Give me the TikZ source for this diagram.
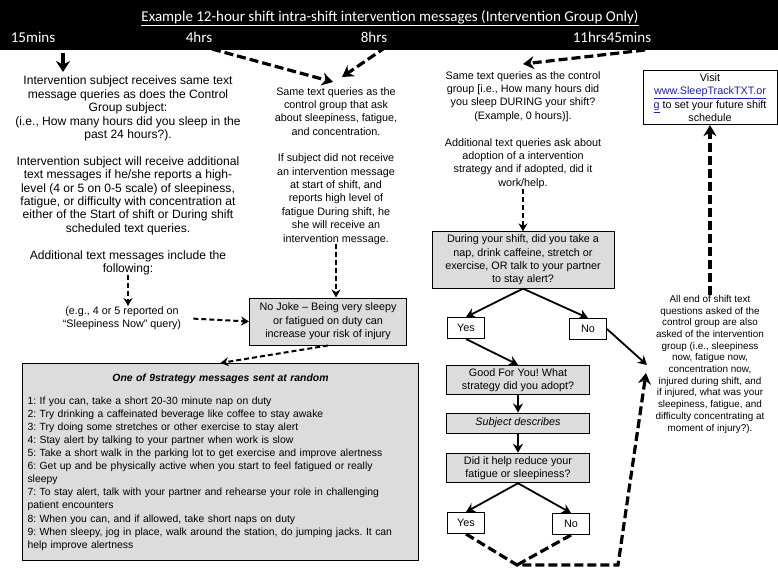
\documentclass[tikz,border=0pt]{standalone}
\usepackage{fontspec}
\setmainfont{Liberation Sans}
\newfontfamily\hdrfont{Carlito}
\usetikzlibrary{arrows.meta, positioning}

\definecolor{boxgrey}{HTML}{DCDCDC}
\definecolor{linkblue}{HTML}{2020B0}

\begin{document}
\frenchspacing
\begin{tikzpicture}[x=1pt, y=-1pt, >=Stealth,
  txt/.style={align=center, inner sep=0pt, font=\fontsize{10.8}{13.4}\selectfont},
  widetxt/.style={txt, font=\fontsize{12.1}{13.4}\selectfont},
  smalltxt/.style={align=center, inner sep=0pt, font=\fontsize{9.9}{11.7}\selectfont},
  hdr/.style={text=white, inner sep=0pt, font=\hdrfont\fontsize{15}{17}\selectfont},
  greybox/.style={draw, line width=1pt, fill=boxgrey, align=center, inner sep=3pt,
    font=\fontsize{10.8}{13.4}\selectfont},
  whitebox/.style={greybox, fill=white},
  answer/.style={whitebox, minimum width=37pt, minimum height=21pt, inner sep=2pt},
  bigdash/.style={line width=3.2pt, dash pattern=on 9pt off 4pt, -{Stealth[length=11pt, width=13pt]}},
  thindash/.style={line width=2pt, dash pattern=on 5pt off 3pt, -{Stealth[length=8pt, width=9pt]}},
  flow/.style={line width=1.8pt, -{Stealth[length=9pt, width=10pt]}}
]
\useasboundingbox (0,0) rectangle (778,573);

% timeline banner
\fill (0,0) rectangle (778,50);
\node[hdr] (title) at (390,18) {\underline{Example 12-hour shift intra-shift intervention messages (Intervention Group Only)}};
\node[hdr] (t15) at (33,37) {15mins};
\node[hdr] (t4) at (199,37) {4hrs};
\node[hdr] (t8) at (374,37) {8hrs};
\node[hdr] (t1145) at (612,37) {11hrs45mins};

% start of shift
\node[widetxt, anchor=north] (ctrl) at (128,76) {Intervention subject receives same text\\
  message queries as does the Control\\ Group subject:\\
  (i.e., How many hours did you sleep in the\\ past 24 hours?).\\[13.4pt]
  Intervention subject will receive additional\\ text messages if he/she reports a high-\\
  level (4 or 5 on 0-5 scale) of sleepiness,\\ fatigue, or difficulty with concentration at\\
  either of the Start of shift or During shift\\ scheduled text queries.\\[13.4pt]
  Additional text messages include the\\ following:};
\node[txt] (eg) at (122,318) {(e.g., 4 or 5 reported on\\ ``Sleepiness Now'' query)};

% during shift
\node[txt, anchor=north] (mid) at (336,87) {Same text queries as the\\ control group that ask\\
  about sleepiness, fatigue,\\ and concentration.\\[13pt]
  If subject did not receive\\ an intervention message\\ at start of shift, and\\
  reports high level of\\ fatigue During shift, he\\ she will receive an\\ intervention message.};
\node[greybox, minimum width=157pt, minimum height=47pt] (nojoke) at (328,321.5)
  {No Joke -- Being very sleepy\\ or fatigued on duty can\\ increase your risk of injury};

\node[greybox, anchor=north west, text width=386pt, align=left, inner xsep=5pt, inner ysep=10pt,
  font=\fontsize{10.4}{13.1}\selectfont] (strat) at (22,363)
  {{\centering\bfseries\itshape One of 9strategy messages sent at random\par}\vspace{10pt}
  1: If you can, take a short 20-30 minute nap on duty\\
  2: Try drinking a caffeinated beverage like coffee to stay awake\\
  3: Try doing some stretches or other exercise to stay alert\\
  4: Stay alert by talking to your partner when work is slow\\
  5: Take a short walk in the parking lot to get exercise and improve alertness\\
  6: Get up and be physically active when you start to feel fatigued or really\\ sleepy\\
  7: To stay alert, talk with your partner and rehearse your role in challenging\\ patient encounters\\
  8: When you can, and if allowed, take short naps on duty\\
  9: When sleepy, jog in place, walk around the station, do jumping jacks. It can\\ help improve alertness};

% end of shift
\node[txt, anchor=north] (endq) at (523,71) {Same text queries as the control\\
  group [i.e., How many hours did\\ you sleep DURING your shift?\\ (Example, 0 hours)].\\[13.4pt]
  Additional text queries ask about\\ adoption of a intervention\\
  strategy and if adopted, did it\\ work/help.};
\node[greybox, minimum width=182pt] (q1) at (523,260) {During your shift, did you take a\\
  nap, drink caffeine, stretch or\\ exercise, OR talk to your partner\\ to stay alert?};
\node[answer] (yes1) at (466,328) {Yes};
\node[answer] (no1) at (588,329) {No};
\node[greybox, minimum width=143pt] (good) at (518,380) {Good For You! What\\ strategy did you adopt?};
\node[greybox, minimum width=143pt, minimum height=20pt, font=\fontsize{10.8}{13.4}\selectfont\itshape] (subj) at (518,423) {Subject describes};
\node[greybox, minimum width=143pt] (help) at (518,468) {Did it help reduce your\\ fatigue or sleepiness?};
\node[answer] (yes2) at (466,523) {Yes};
\node[answer] (no2) at (571,524) {No};

\node[smalltxt, anchor=north] (allend) at (710,295) {All end of shift text\\
  questions asked of the\\ control group are also\\ asked of the intervention\\
  group (i.e., sleepiness\\ now, fatigue now,\\ concentration now,\\
  injured during shift, and\\ if injured, what was your\\ sleepiness, fatigue, and\\
  difficulty concentrating at\\ moment of injury?).};
\node[whitebox, minimum width=134pt, anchor=north] (visit) at (710,70) {Visit\\
  \textcolor{linkblue}{\underline{www.SleepTrackTXT.or}}\\
  \textcolor{linkblue}{\underline{g}} to set your future shift\\ schedule};

% free ends
\coordinate (s15) at (63,53);
\coordinate (e15) at (63,72);
\coordinate (s4) at (212,49);
\coordinate (e4) at (333,82);
\coordinate (s8) at (386,47);
\coordinate (e8) at (342,77);
\coordinate (s1145) at (645,50);
\coordinate (e1145) at (523,64);
\coordinate (vtip) at (517,565);
\coordinate (corner) at (618,565);
\coordinate (endin) at (646,373);
\coordinate (noin) at (647,365);

% connectors
\draw[line width=3.5pt, -{Stealth[length=11pt, width=14pt]}] (s15) -- (e15);
\draw[bigdash] (s4) -- (e4);
\draw[bigdash] (s8) -- (e8);
\draw[bigdash] (s1145) -- (e1145);
\draw[thindash] (ctrl.south) -- (ctrl.south |- eg.north);
\draw[thindash, shorten <=12pt] (eg.east) -- (nojoke.west);
\draw[thindash] (mid.south) -- (mid.south |- nojoke.north);
\draw[thindash] (nojoke.south) -- (strat.north);
\draw[thindash] (endq.south) -- (q1.north);
\draw[flow] (q1.south) -- (yes1.north);
\draw[flow] (q1.south) -- (no1.north);
\draw[flow] (yes1.south) -- (good.north);
\draw[flow] (good.south) -- (subj.north);
\draw[flow] (subj.south) -- (help.north);
\draw[flow] (help.south) -- (yes2.north);
\draw[flow] (help.south) -- (no2.north);
\draw[bigdash, -] (no2.south) -- (vtip);
\draw[bigdash] (yes2.south) -- (vtip) -- (corner) -- (endin);
\draw[flow] (no1.east) -- (noin);
\draw[bigdash] (allend.north) -- (visit.south);
\end{tikzpicture}
\end{document}
